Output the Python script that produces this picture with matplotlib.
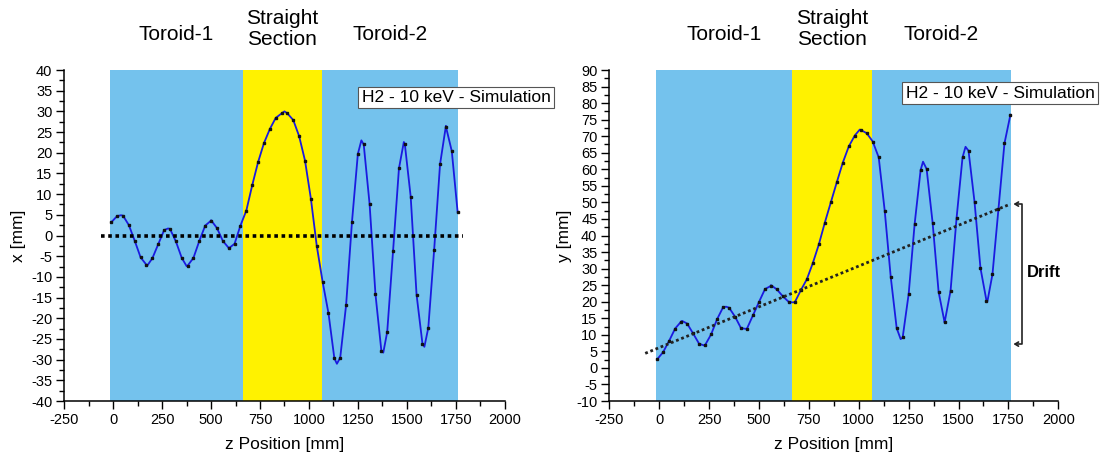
import numpy as np
import matplotlib
matplotlib.use("Agg")
import matplotlib.pyplot as plt
from matplotlib.ticker import MultipleLocator
import matplotlib.transforms as mtransforms

plt.rcParams["font.family"] = "Liberation Sans"
plt.rcParams["axes.unicode_minus"] = False

# ---- data ----
Z_PTS = [-10, 20, 50, 80, 110, 140, 170, 200, 230, 260,
         290, 320, 350, 380, 410, 440, 470, 500, 530, 560,
         590, 620, 650, 680, 710, 740, 770, 800, 830, 860,
         890, 920, 950, 980, 1010, 1040, 1070, 1100, 1130, 1160,
         1190, 1220, 1250, 1280, 1310, 1340, 1370, 1400, 1430, 1460,
         1490, 1520, 1550, 1580, 1610, 1640, 1670, 1700, 1730, 1760]
X_PTS = [3.2, 4.7, 4.8, 2.5, -1.3, -5.3, -7.1, -5.5, -2.1, 1.3,
         1.6, -1.4, -5.4, -7.3, -5.4, -1.3, 2.4, 3.6, 1.8, -1.3,
         -3.0, -2.0, 2.4, 6.0, 12.1, 17.7, 22.3, 25.7, 28.4, 29.5,
         29.5, 27.9, 24.0, 18.1, 8.9, -2.5, -11.2, -18.8, -29.7, -29.5,
         -16.8, 3.3, 19.7, 22.0, 7.6, -14.2, -27.8, -23.3, -3.7, 16.2,
         22.1, 9.4, -14.3, -26.1, -22.3, -3.4, 17.2, 26.3, 20.4, 5.6]
Y_PTS = [2.6, 4.8, 8.2, 11.9, 14.0, 13.4, 10.4, 7.3, 6.9, 10.1,
         14.7, 18.3, 18.2, 15.5, 12.0, 11.9, 15.9, 19.9, 23.8, 24.8,
         23.7, 21.6, 19.9, 19.9, 23.5, 26.8, 31.7, 37.3, 43.9, 50.0,
         56.1, 62.0, 66.9, 70.2, 71.9, 70.9, 68.4, 63.6, 47.5, 27.6,
         12.0, 9.2, 22.3, 43.5, 59.8, 60.1, 43.9, 23.0, 13.8, 23.3,
         45.2, 63.6, 65.6, 50.2, 30.1, 20.3, 28.3, 48.0, 67.8, 76.5]

# turning points of the drawn curve (line only, no marker)
X_TURN_Z = [40, 175, 280, 375, 500, 590, 875, 1143, 1268, 1380, 1485, 1590, 1700]
X_TURN = [4.9, -7.2, 1.7, -7.4, 3.7, -3.1, 30.0, -31.0, 23.0, -28.3, 22.6, -26.9, 26.5]
Y_TURN_Z = [115, 225, 335, 435, 560, 670, 1005, 1210, 1322, 1430, 1535, 1645]
Y_TURN = [14.2, 6.8, 18.5, 11.8, 25.0, 19.8, 72.0, 8.7, 62.3, 13.7, 66.8, 20.2]

X_REF_Z = [-60, 1785]
X_REF = [0, 0]
Y_DRIFT_Z = [-70, 1760]
Y_DRIFT = [4.4, 49.5]
DRIFT_SPAN = [7.2, 49.5]

REGION_EDGES = [-18, 664, 1065, 1764]
REGION_NAMES = ["Toroid-1", "Straight\nSection", "Toroid-2"]
REGION_COLORS = ["#74c2ed", "#fff200", "#74c2ed"]

LINE_BLUE = "#1a1ae0"


def panel(ax, vals, turn_z, turn_v, ylim, ylabel, legend_xy):
    for i, c in enumerate(REGION_COLORS):
        ax.axvspan(REGION_EDGES[i], REGION_EDGES[i + 1], color=c, lw=0, zorder=0)
    zz = np.concatenate([Z_PTS, turn_z])
    vv = np.concatenate([vals, turn_v])
    o = np.argsort(zz)
    ax.plot(zz[o], vv[o], color=LINE_BLUE, lw=1.3, zorder=3)
    ax.plot(Z_PTS, vals, ls="none", marker="s", ms=2.0, color="#111111", zorder=4)
    ax.set_xlim(-250, 2000)
    ax.set_ylim(*ylim)
    ax.xaxis.set_major_locator(MultipleLocator(250))
    ax.xaxis.set_minor_locator(MultipleLocator(125))
    ax.yaxis.set_major_locator(MultipleLocator(5))
    ax.yaxis.set_minor_locator(MultipleLocator(2.5))
    ax.tick_params(which="both", direction="out", width=1, labelsize=10.5, pad=2.5)
    ax.tick_params(which="major", length=6)
    ax.tick_params(which="minor", length=3.5)
    for s in ("top", "right"):
        ax.spines[s].set_visible(False)
    for s in ("left", "bottom"):
        ax.spines[s].set_linewidth(1.1)
    ax.set_xlabel("z Position [mm]", fontsize=12.5)
    ax.set_ylabel(ylabel, fontsize=12.5)
    ax.xaxis.set_label_coords(0.5, -0.108)
    ax.yaxis.set_label_coords(-0.087, 0.5)

    trans = mtransforms.blended_transform_factory(ax.transData, ax.transAxes)
    for i, name in enumerate(REGION_NAMES):
        zc = (REGION_EDGES[i] + REGION_EDGES[i + 1]) / 2
        yc = 1.124 if "\n" in name else 1.106
        ax.text(zc, yc, name, transform=trans, ha="center", va="center",
                fontsize=15, linespacing=1.15, clip_on=False)
    ax.text(legend_xy[0], legend_xy[1], "H2 - 10 keV - Simulation", transform=ax.transAxes,
            ha="center", va="center", fontsize=12.5, zorder=6,
            bbox=dict(boxstyle="square,pad=0.2", fc="white", ec="#555555", lw=0.8))


fig = plt.figure(figsize=(11.03, 4.54), dpi=100)
ax1 = fig.add_axes([0.0583, 0.1167, 0.3992, 0.7291])
ax2 = fig.add_axes([0.5524, 0.1167, 0.4071, 0.7291])

panel(ax1, X_PTS, X_TURN_Z, X_TURN, (-40, 40), "x [mm]", (0.89, 0.917))
ax1.plot(X_REF_Z, X_REF, color="black", lw=2.6, ls=(0, (1, 1)), zorder=5)

panel(ax2, Y_PTS, Y_TURN_Z, Y_TURN, (-10, 90), "y [mm]", (0.87, 0.93))
ax2.yaxis.set_label_coords(-0.083, 0.5)
ax2.plot(Y_DRIFT_Z, Y_DRIFT, color="#222222", lw=2.0, ls=(0, (1, 1)), zorder=5)

# drift bracket
ax2.annotate("", xy=(1775, DRIFT_SPAN[1]), xytext=(1775, DRIFT_SPAN[0]),
             arrowprops=dict(arrowstyle="<->,head_length=0.25,head_width=0.15",
                             connectionstyle="bar,fraction=0.06",
                             color="#222222", lw=1.2, shrinkA=0, shrinkB=0),
             annotation_clip=False, zorder=6)
ax2.text(1928, (DRIFT_SPAN[0] + DRIFT_SPAN[1]) / 2 + 0.5, "Drift", ha="center", va="center",
         fontsize=12, fontweight="bold", clip_on=False)

fig.savefig("out.png", dpi=100)
